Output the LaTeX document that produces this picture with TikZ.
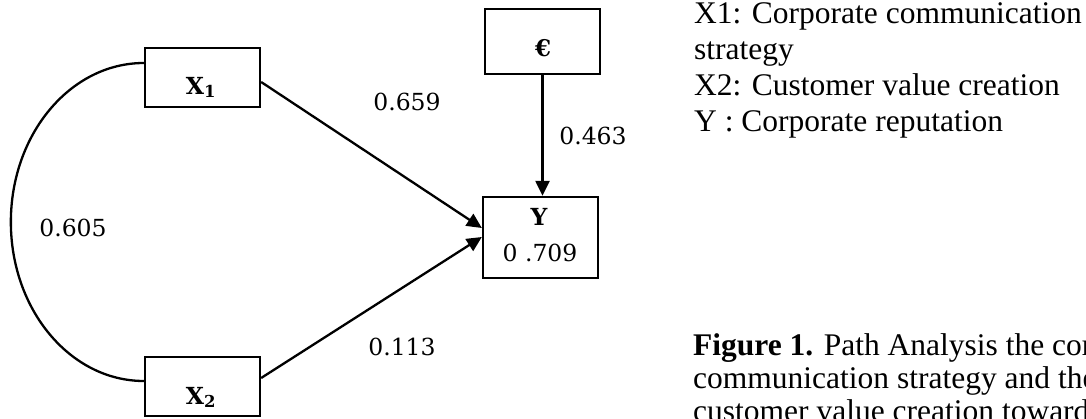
\documentclass[tikz,border=0pt]{standalone}
\usepackage{fontspec}
\setmainfont{Liberation Serif}
\newfontfamily\dvs{DejaVu Serif}
\usetikzlibrary{arrows.meta}
\begin{document}
\begin{tikzpicture}[x=1pt,y=1pt,
  box/.style={draw, line width=2.3pt, minimum width=115pt, minimum height=#1, inner sep=0pt},
  num/.style={font=\dvs\fontsize{23.5}{23.5}\selectfont, inner sep=0pt},
  lab/.style={font=\dvs\bfseries\fontsize{23.5}{23.5}\selectfont, inner sep=0pt},
  conn/.style={line width=2.3pt},
  arr/.style={conn, -{Triangle[length=15pt,width=14pt]}},
  legend/.style={font=\fontsize{31.5}{31.5}\selectfont, anchor=base west, inner sep=0pt}]
\clip (0,0) rectangle (1086,418);
\fill[white] (0,0) rectangle (1086,418);
% boxes
\node[box=59pt] (x1) at (202.5,340.5) {};
\node[box=59pt] (x2) at (202.5,31.5) {};
\node[box=81pt] (y) at (540.5,180.5) {};
\node[box=65pt] (e) at (542.5,376.5) {};
% box texts
\node[lab] (x1t) at (201,330.5) {X\textsubscript{1}};
\node[lab] (x2t) at (201,20.5) {X\textsubscript{2}};
\node[lab] (yt) at (539,201.5) {Y};
\node[num] (yv) at (540,165) {0 .709};
\node[lab, font=\dvs\bfseries\fontsize{23}{23}\selectfont] (et) at (543,370) {€};
% connectors
\draw[arr] ([yshift=-4.5pt]x1.east) -- ([yshift=9.5pt]y.west);
\draw[arr] ([yshift=8.5pt]x2.east) -- ([yshift=0.5pt]y.west);
\draw[arr] (e.south) -- (e.south |- y.north);
\draw[conn] ([yshift=14.5pt]x1.west) arc[start angle=90, end angle=270, x radius=133pt, y radius=159pt];
% coefficients
\node[num] (l605) at (73,190) {0.605};
\node[num] (l659) at (407,316) {0.659};
\node[num] (l463) at (593,282) {0.463};
\node[num] (l113) at (402,71) {0.113};
% legend
\node[legend] (lg1) at (694,394) {X1: Corporate communication};
\node[legend] (lg2) at (694,358) {strategy};
\node[legend] (lg3) at (694,322) {X2: Customer value creation};
\node[legend] (lg4) at (694,286) {Y : Corporate reputation};
% caption (cut off at the right and bottom edges, as in the source)
\node[legend] (cp1) at (693,63) {\textbf{Figure 1.} Path Analysis the corporate};
\node[legend] (cp2) at (693,30) {communication strategy and the};
\node[legend] (cp3) at (693,-3) {customer value creation towards};
\end{tikzpicture}
\end{document}
